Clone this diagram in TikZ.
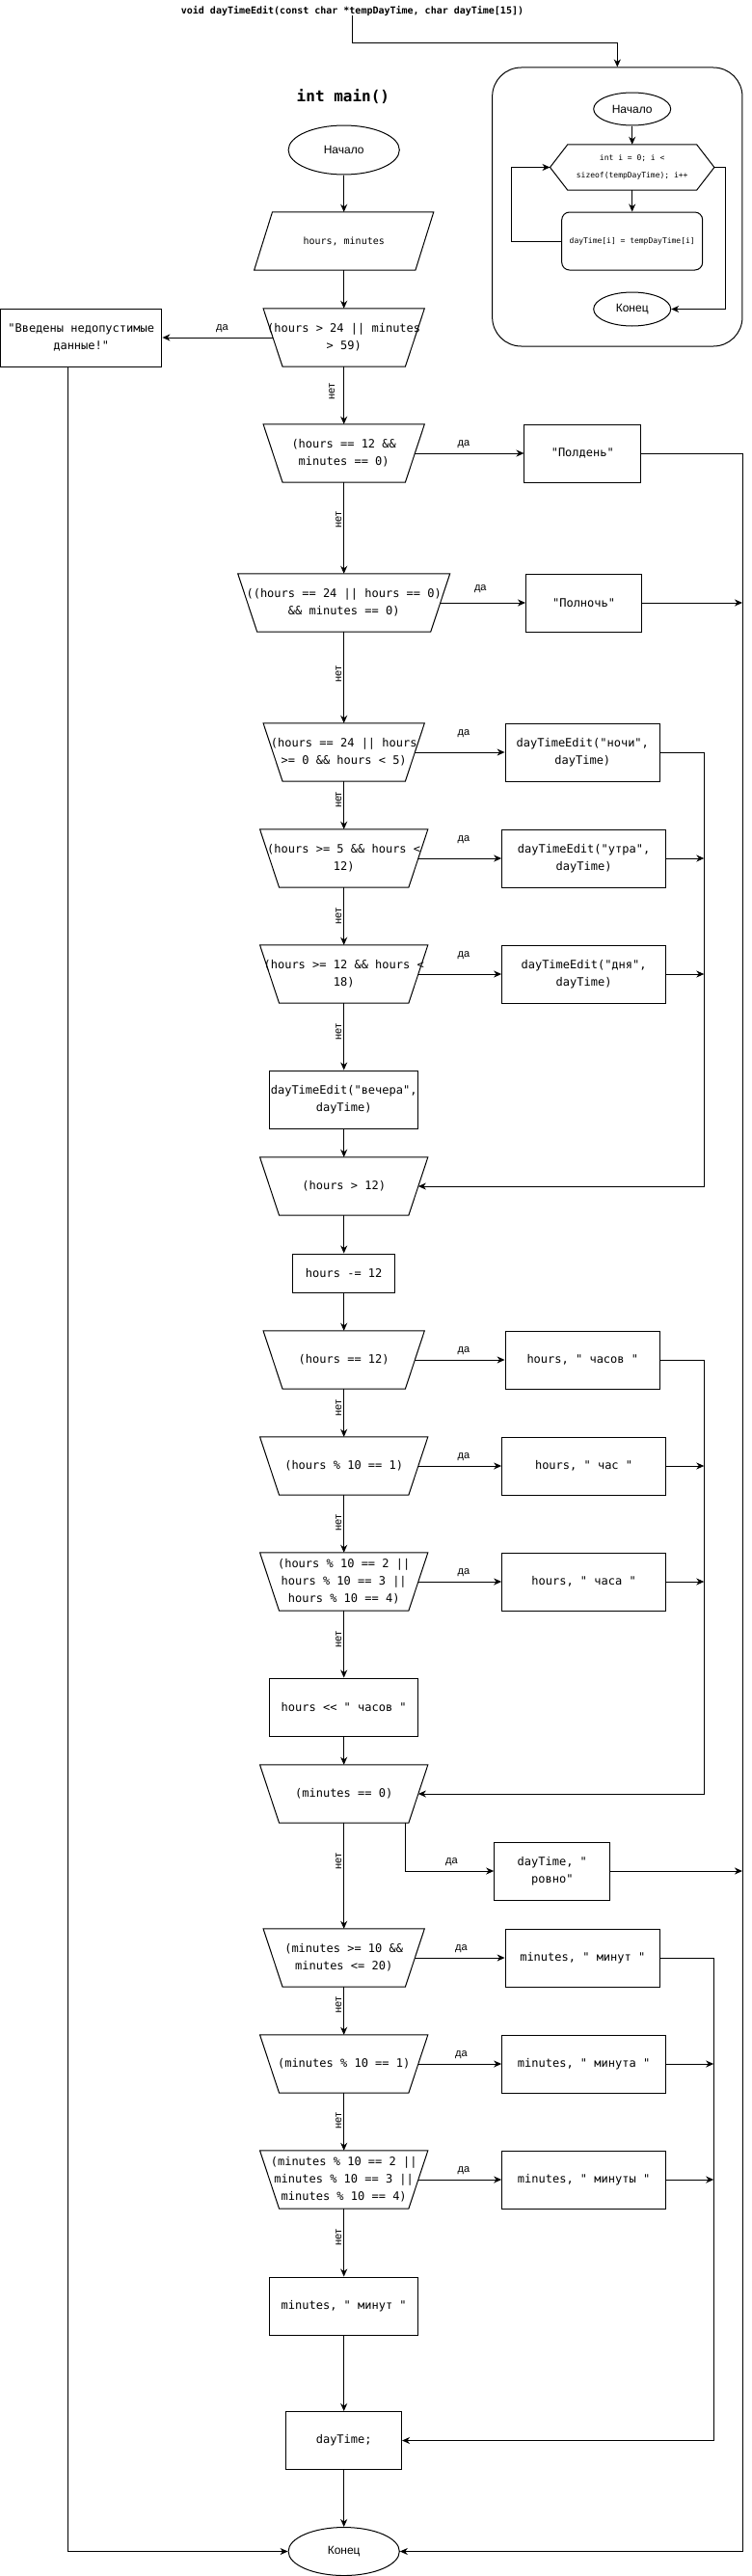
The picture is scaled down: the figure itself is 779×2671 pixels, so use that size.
\documentclass[tikz,border=0pt]{standalone}
\usepackage{fontspec}
\setmainfont{Liberation Sans}
\newfontfamily\codefont{DejaVu Sans Mono}
\usetikzlibrary{shapes.geometric,arrows.meta}
\begin{document}
\begin{tikzpicture}[x=1pt,y=-1pt,
  base/.style={inner sep=0pt, align=center, font=\codefont\fontsize{12}{18}\selectfont},
  proc/.style={base, draw, rectangle, line width=1pt, minimum height=60pt},
  dec/.style={base, rectangle, minimum height=60pt},
  term/.style={draw, ellipse, inner sep=0pt, line width=1pt, font=\fontsize{12}{14}\selectfont},
  arr/.style={line width=1pt, -{Stealth[length=8pt,width=7pt,inset=2.5pt]}},
  ln/.style={line width=1pt},
  yes/.style={font=\fontsize{11}{13}\selectfont, inner sep=0pt},
  no/.style={font=\fontsize{11}{13}\selectfont, inner sep=0pt, rotate=90}
]
\useasboundingbox (0,0) rectangle (779,2671);
\fill[white] (0,0) rectangle (779,2671);

% ---------- subroutine ----------
\node[base, font=\codefont\bfseries\fontsize{10}{12}\selectfont] (title) at (365.5,11) {void dayTimeEdit(const char *tempDayTime, char dayTime[15])};
\node[draw, line width=1pt, rounded corners=30pt, minimum width=259.3pt, minimum height=289pt, inner sep=0pt] (sub) at (640.3,214.5) {};
\node[term, minimum width=80pt, minimum height=34pt] (sstart) at (655.7,113) {Начало};
\node[base, minimum width=170pt, minimum height=47pt, font=\codefont\fontsize{8}{18.3}\selectfont] (hex) at (655.7,173.5) {int i = 0; i <\\sizeof(tempDayTime); i++};
\draw[ln] ([xshift=18.3pt]hex.north west) -- ([xshift=-18.3pt]hex.north east) -- (hex.east) -- ([xshift=-18.3pt]hex.south east) -- ([xshift=18.3pt]hex.south west) -- (hex.west) -- cycle;
\node[proc, rounded corners=8pt, minimum width=146pt, font=\codefont\fontsize{8}{10}\selectfont] (srect) at (655.7,250) {dayTime[i] = tempDayTime[i]};
\node[term, minimum width=80pt, minimum height=35pt] (send) at (655.7,320.5) {Конец};

\coordinate (tc) at (365.5,45);
\coordinate (sl) at (530.5,250);
\coordinate (sr) at (752.3,173.5);
\draw[arr] (title.south) -- (tc) -| (sub.north);
\draw[arr] (sstart) -- (hex);
\draw[arr] (hex) -- (srect);
\draw[arr] (srect.west) -- (sl) |- (hex.west);
\draw[arr] (hex.east) -- (sr) |- (send.east);

% ---------- main ----------
\node[font=\codefont\bfseries\fontsize{16}{18}\selectfont, inner sep=0pt] (maintitle) at (355.9,100) {int main()};
\node[term, minimum width=115.2pt, minimum height=51pt] (start) at (356.7,155.5) {Начало};
\node[base, minimum width=185.8pt, minimum height=60pt, font=\codefont\fontsize{10}{12}\selectfont] (in) at (356.7,250) {hours, minutes};
\draw[ln] ([xshift=18.9pt]in.north west) -- (in.north east) -- ([xshift=-18.9pt]in.south east) -- (in.south west) -- cycle;

\node[dec, minimum width=166.9pt] (d1) at (356.7,350) {(hours > 24 || minutes\\> 59)};
\node[proc, minimum width=167.4pt] (err) at (84.2,350) {"Введены недопустимые\\данные!"};
\node[dec, minimum width=166.9pt] (d2) at (356.7,470) {(hours == 12 \&\&\\minutes == 0)};
\node[proc, minimum width=120.7pt] (noon) at (604.3,470) {"Полдень"};
\node[dec, minimum width=219.6pt] (d3) at (356.7,625) {((hours == 24 || hours == 0)\\\&\& minutes == 0)};
\node[proc, minimum width=120.2pt] (midnight) at (605.6,625) {"Полночь"};
\node[dec, minimum width=166.9pt] (d4) at (356.7,780) {(hours == 24 || hours\\>= 0 \&\& hours < 5)};
\node[proc, minimum width=160.4pt] (night) at (604.3,780) {dayTimeEdit("ночи",\\dayTime)};
\node[dec, minimum width=173.9pt] (d5) at (356.7,890) {(hours >= 5 \&\& hours <\\12)};
\node[proc, minimum width=169.9pt] (morning) at (605.6,890) {dayTimeEdit("утра",\\dayTime)};
\node[dec, minimum width=173.9pt] (d6) at (356.7,1010) {(hours >= 12 \&\& hours <\\18)};
\node[proc, minimum width=169.9pt] (day) at (605.6,1010) {dayTimeEdit("дня",\\dayTime)};
\node[proc, minimum width=154pt] (evening) at (356.7,1140) {dayTimeEdit("вечера",\\dayTime)};
\node[dec, minimum width=173.9pt] (d7) at (356.7,1230) {(hours > 12)};
\node[proc, minimum width=106.3pt, minimum height=40pt] (minus12) at (356.7,1320) {hours -= 12};
\node[dec, minimum width=166.9pt] (d8) at (356.7,1410) {(hours == 12)};
\node[proc, minimum width=160.4pt] (hours1) at (604.3,1410) {hours, " часов "};
\node[dec, minimum width=173.9pt] (d9) at (356.7,1520) {(hours \% 10 == 1)};
\node[proc, minimum width=169.9pt] (hours2) at (605.6,1520) {hours, " час "};
\node[dec, minimum width=173.9pt] (d10) at (356.7,1640) {(hours \% 10 == 2 ||\\hours \% 10 == 3 ||\\hours \% 10 == 4)};
\node[proc, minimum width=169.9pt] (hours3) at (605.6,1640) {hours, " часа "};
\node[proc, minimum width=154pt] (hours4) at (356.7,1770) {hours << " часов "};
\node[dec, minimum width=173.9pt] (d11) at (356.7,1860) {(minutes == 0)};
\node[proc, minimum width=120.2pt] (exact) at (572.8,1940) {dayTime, "\\ровно"};
\node[dec, minimum width=166.9pt] (d12) at (356.7,2030) {(minutes >= 10 \&\&\\minutes <= 20)};
\node[proc, minimum width=160.4pt] (min1) at (604.3,2030) {minutes, " минут "};
\node[dec, minimum width=173.9pt] (d13) at (356.7,2140) {(minutes \% 10 == 1)};
\node[proc, minimum width=169.9pt] (min2) at (605.6,2140) {minutes, " минута "};
\node[dec, minimum width=173.9pt] (d14) at (356.7,2260) {(minutes \% 10 == 2 ||\\minutes \% 10 == 3 ||\\minutes \% 10 == 4)};
\node[proc, minimum width=169.9pt] (min3) at (605.6,2260) {minutes, " минуты "};
\node[proc, minimum width=154pt] (min4) at (356.7,2391) {minutes, " минут "};
\node[proc, minimum width=119.7pt] (dt) at (356.7,2530.5) {dayTime;};
\node[term, minimum width=115.2pt, minimum height=50pt] (end) at (356.7,2645.5) {Конец};

\foreach \n in {d1,d2,d3,d4,d5,d6,d7,d8,d9,d10,d11,d12,d13,d14}
  \draw[ln] (\n.north west) -- (\n.north east) -- ([xshift=-20pt]\n.south east) -- ([xshift=20pt]\n.south west) -- cycle;

% main flow
\draw[arr] (start) -- (in);
\draw[arr] (in) -- (d1);
\draw[arr] (d1) -- (d2);
\draw[arr] (d2) -- (d3);
\draw[arr] (d3) -- (d4);
\draw[arr] (d4) -- (d5);
\draw[arr] (d5) -- (d6);
\draw[arr] (d6) -- (evening);
\draw[arr] (evening) -- (d7);
\draw[arr] (d7) -- (minus12);
\draw[arr] (minus12) -- (d8);
\draw[arr] (d8) -- (d9);
\draw[arr] (d9) -- (d10);
\draw[arr] (d10) -- (hours4);
\draw[arr] (hours4) -- (d11);
\draw[arr] (d11) -- (d12);
\draw[arr] (d12) -- (d13);
\draw[arr] (d13) -- (d14);
\draw[arr] (d14) -- (min4);
\draw[arr] (min4) -- (dt);
\draw[arr] (dt) -- (end);

% yes branches
\draw[arr] ([xshift=10pt]d1.west) -- (err.east);
\draw[arr] ([xshift=-10pt]d2.east) -- (noon.west);
\draw[arr] ([xshift=-10pt]d3.east) -- (midnight.west);
\draw[arr] ([xshift=-10pt]d4.east) -- (night.west);
\draw[arr] ([xshift=-10pt]d5.east) -- (morning.west);
\draw[arr] ([xshift=-10pt]d6.east) -- (day.west);
\draw[arr] ([xshift=-10pt]d8.east) -- (hours1.west);
\draw[arr] ([xshift=-10pt]d9.east) -- (hours2.west);
\draw[arr] ([xshift=-10pt]d10.east) -- (hours3.west);
\draw[arr] ([xshift=-23pt]d11.south east) |- (exact.west);
\draw[arr] ([xshift=-10pt]d12.east) -- (min1.west);
\draw[arr] ([xshift=-10pt]d13.east) -- (min2.west);
\draw[arr] ([xshift=-10pt]d14.east) -- (min3.west);

% collector lines
\coordinate (R1) at (770,470);
\coordinate (R2) at (730.3,780);
\coordinate (R3) at (730.3,1410);
\coordinate (R4) at (740.2,2030);
\draw[arr] ([xshift=-13.7pt]err.south) |- (end.west);
\draw[arr] (noon.east) -- (R1) |- (end.east);
\draw[arr] (midnight.east) -- (midnight.east -| R1);
\draw[arr] (exact.east) -- (exact.east -| R1);
\draw[arr] (night.east) -- (R2) |- ([xshift=-10pt]d7.east);
\draw[arr] (morning.east) -- (morning.east -| R2);
\draw[arr] (day.east) -- (day.east -| R2);
\draw[arr] (hours1.east) -- (R3) |- ([xshift=-10pt]d11.east);
\draw[arr] (hours2.east) -- (hours2.east -| R3);
\draw[arr] (hours3.east) -- (hours3.east -| R3);
\draw[arr] (min1.east) -- (R4) |- (dt.east);
\draw[arr] (min2.east) -- (min2.east -| R4);
\draw[arr] (min3.east) -- (min3.east -| R4);

% labels
\node[yes] (y1) at (230.5,341) {да};
\node[yes] (y2) at (480.9,461) {да};
\node[yes] (y3) at (498.3,611) {да};
\node[yes] (y4) at (480.9,761) {да};
\node[yes] (y5) at (480.9,871) {да};
\node[yes] (y6) at (480.9,991) {да};
\node[yes] (y8) at (480.9,1401) {да};
\node[yes] (y9) at (480.9,1511) {да};
\node[yes] (y10) at (480.9,1631) {да};
\node[yes] (y11) at (468.5,1931) {да};
\node[yes] (y12) at (478.4,2021) {да};
\node[yes] (y13) at (478.4,2131) {да};
\node[yes] (y14) at (480.9,2251) {да};

\node[no] (n1) at (344.3,406) {нет};
\node[no] (n2) at (351.2,539) {нет};
\node[no] (n3) at (351.2,699) {нет};
\node[no] (n4) at (351.2,829.5) {нет};
\node[no] (n5) at (351.2,950) {нет};
\node[no] (n6) at (351.2,1070) {нет};
\node[no] (n8) at (351.2,1460) {нет};
\node[no] (n9) at (351.2,1579) {нет};
\node[no] (n10) at (351.2,1700) {нет};
\node[no] (n11) at (351.2,1930) {нет};
\node[no] (n12) at (351.2,2079) {нет};
\node[no] (n13) at (351.2,2199) {нет};
\node[no] (n14) at (351.2,2320) {нет};
\end{tikzpicture}
\end{document}
